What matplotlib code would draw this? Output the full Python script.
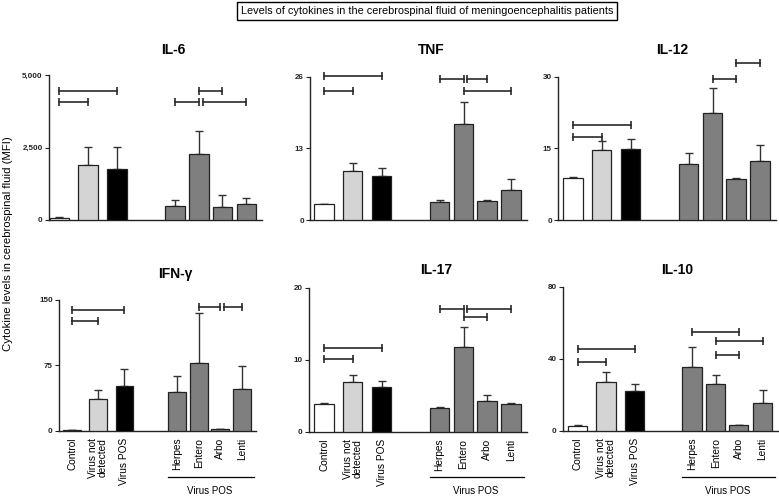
import matplotlib
matplotlib.use("Agg")
import matplotlib.pyplot as plt
from matplotlib.ticker import FuncFormatter
from matplotlib.transforms import blended_transform_factory

plt.rcParams['font.family'] = ['Liberation Sans', 'DejaVu Sans']

# groups (same for all panels)
groups = ['Control', 'Virus not\ndetected', 'Virus POS', 'Herpes', 'Entero', 'Arbo', 'Lenti']
bar_colors = ['white', '#d4d4d4', 'black', '#7f7f7f', '#7f7f7f', '#7f7f7f', '#7f7f7f']
xpos = [0, 1.43, 2.88, 5.78, 6.98, 8.15, 9.35]

# values (mean and upper error)
il6_mean = [80, 1900, 1770, 490, 2290, 460, 540]
il6_err = [30, 630, 760, 190, 780, 410, 210]
tnf_mean = [3.0, 8.9, 8.0, 3.26, 17.4, 3.44, 5.4]
tnf_err = [0, 1.4, 1.5, 0.35, 4.1, 0.15, 2.0]
il12_mean = [8.8, 14.75, 14.9, 11.75, 22.5, 8.7, 12.4]
il12_err = [0.15, 1.9, 2.0, 2.35, 5.2, 0.2, 3.25]
ifng_mean = [1.0, 36, 51.3, 44, 78, 2.0, 47.5]
ifng_err = [0, 10.4, 19.5, 18.5, 57.5, 0, 27]
il17_mean = [3.9, 6.86, 6.2, 3.33, 11.7, 4.2, 3.9]
il17_err = [0.13, 1.0, 0.9, 0.15, 2.9, 0.85, 0.1]
il10_mean = [2.8, 26.9, 22.0, 35.4, 25.9, 3.2, 15.2]
il10_err = [0.2, 5.7, 4.1, 10.9, 5.2, 0.2, 7.2]

# significance brackets: (from group, to group, level)
il6_sig = [(0, 2, 4450), (0, 1, 4070), (4, 5, 4450), (3, 4, 4070), (4, 6, 4070)]
tnf_sig = [(0, 2, 26.1), (0, 1, 23.5), (3, 4, 25.6), (4, 5, 25.6), (4, 6, 23.5)]
il12_sig = [(0, 2, 20.0), (0, 1, 17.4), (5, 6, 32.8), (4, 5, 29.5)]
ifng_sig = [(0, 2, 138.5), (0, 1, 126.3), (4, 5, 142.4), (5, 6, 142.4)]
il17_sig = [(0, 2, 11.6), (0, 1, 10.05), (3, 4, 17.0), (4, 6, 17.0), (4, 5, 16.0)]
il10_sig = [(0, 2, 45.2), (0, 1, 38.0), (3, 5, 55.0), (4, 6, 49.8), (4, 5, 42.2)]

W, H = 779, 496
fig = plt.figure(figsize=(W / 100, H / 100), dpi=100)

# name, mean, err, sig, ymax, ticks, rect(px: left, top, width, height), xleft, title pos px, bottom row
panels = [
    ('IL-6', il6_mean, il6_err, il6_sig, 5000, [0, 2500, 5000], (49, 75, 213, 145), -0.52, (173, 50), False),
    ('TNF', tnf_mean, tnf_err, tnf_sig, 26, [0, 13, 26], (310, 76.7, 216.6, 143.6), -0.7, (431, 50), False),
    ('IL-12', il12_mean, il12_err, il12_sig, 30, [0, 15, 30], (558, 76.7, 217.6, 143.6), -0.75, (672, 50), False),
    ('IFN-γ', ifng_mean, ifng_err, ifng_sig, 150, [0, 75, 150], (59, 300, 197.3, 130.7), -0.72, (175, 274), True),
    ('IL-17', il17_mean, il17_err, il17_sig, 20, [0, 10, 20], (309, 287.7, 217.6, 144), -0.75, (436, 270), True),
    ('IL-10', il10_mean, il10_err, il10_sig, 80, [0, 40, 80], (563, 286.7, 215, 144), -0.75, (677, 270), True),
]

for name, mean, err, sig, ymax, ticks, rect, xl, tpos, bottom in panels:
    l, t, w, h = rect
    ax = fig.add_axes([l / W, 1 - (t + h) / H, w / W, h / H])
    ax.bar(xpos, mean, width=0.97, color=bar_colors, edgecolor='#222222',
           linewidth=0.9, zorder=3)
    ax.errorbar(xpos, mean, yerr=[[0] * len(err), err], fmt='none',
                ecolor='#333333', elinewidth=1, capsize=3, capthick=1, zorder=2)
    ax.set_xlim(xl, 10.13)
    ax.set_ylim(0, ymax)
    ax.set_yticks(ticks)
    ax.yaxis.set_major_formatter(FuncFormatter(lambda v, p: '{:,.0f}'.format(v)))
    for s in ['top', 'right']:
        ax.spines[s].set_visible(False)
    for s in ['left', 'bottom']:
        ax.spines[s].set_linewidth(1)
        ax.spines[s].set_color('#222222')
    ax.tick_params(axis='y', length=3, width=0.8, pad=1.5, labelsize=5.8, colors='#222222')
    for lab in ax.get_yticklabels():
        lab.set_fontweight('bold')
    ax.set_xticks(xpos)
    if bottom:
        ax.set_xticklabels(groups, rotation=90, fontsize=7.3, linespacing=1.0)
        ax.tick_params(axis='x', length=0, pad=5)
    else:
        ax.tick_params(axis='x', length=0, labelbottom=False)

    # brackets
    ends = {}
    for i, j, y in sig:
        ends.setdefault(y, []).append((i, j))
    for i, j, y in sig:
        x1, x2 = xpos[i], xpos[j]
        if any(b == i for a, b in ends[y] if (a, b) != (i, j)):
            x1 += 0.18
        ax.plot([x1, x2], [y, y], color='#2a2a2a', lw=1.2, clip_on=False, zorder=4)
        ax.plot([x1, x2], [y, y], ls='none', marker='|', ms=6, mew=1.2,
                color='#2a2a2a', clip_on=False, zorder=4)

    fig.text(tpos[0] / W, 1 - tpos[1] / H, name, ha='center', va='center',
             fontsize=10, fontweight='bold')

    if bottom:
        # line and label under the virus sub-groups (fixed figure height)
        tr = blended_transform_factory(ax.transData, fig.transFigure)
        ax.plot([xpos[3] - 0.5, 10.0], [1 - 476.5 / H] * 2, color='black', lw=0.9,
                transform=tr, clip_on=False)
        ax.text((xpos[3] + xpos[6]) / 2, 1 - 490.5 / H, 'Virus POS', ha='center',
                va='center', fontsize=7, transform=tr)

fig.text(8.5 / W, 1 - 244 / H, 'Cytokine levels in cerebrospinal fluid (MFI)',
         rotation=90, ha='center', va='center', fontsize=8.2)

fig.text(427 / W, 1 - 11 / H,
         'Levels of cytokines in the cerebrospinal fluid of meningoencephalitis patients',
         ha='center', va='center', fontsize=7.8,
         bbox=dict(boxstyle='square,pad=0.35', facecolor='white', edgecolor='black', lw=1))

fig.savefig('out.png', dpi=100)
